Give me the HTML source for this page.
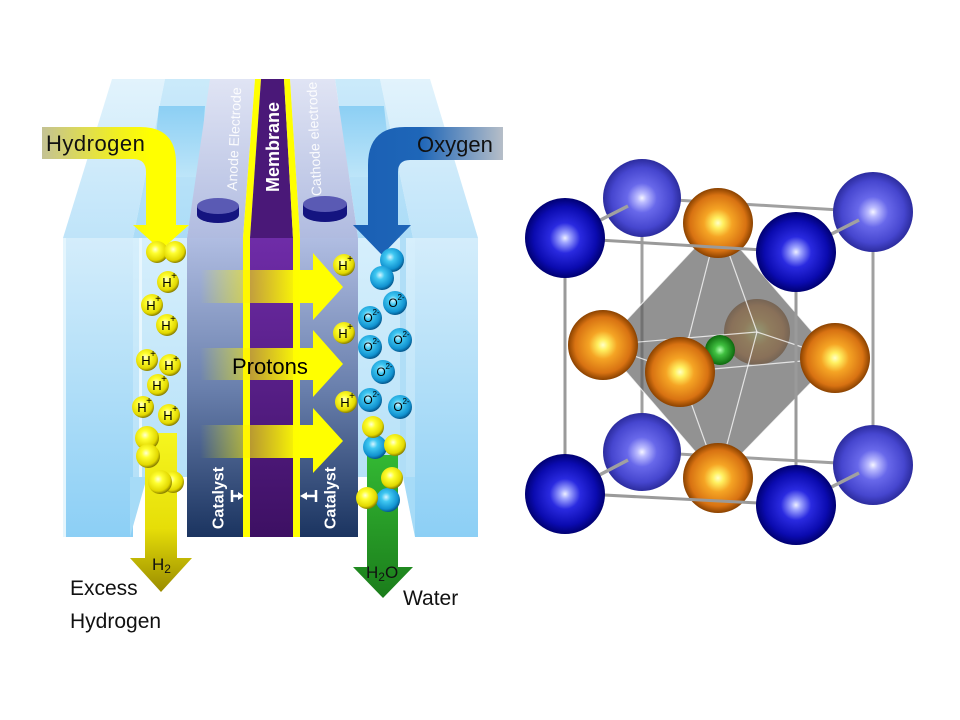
<!DOCTYPE html>
<html><head><meta charset="utf-8"><style>html,body{margin:0;padding:0;background:#fff}svg{display:block}</style></head>
<body>
<svg width="960" height="720" viewBox="0 0 960 720" xmlns="http://www.w3.org/2000/svg" font-family="'Liberation Sans', sans-serif">
<defs>
<linearGradient id="wallF" x1="0" y1="0" x2="0" y2="1"><stop offset="0" stop-color="#d4edfb"/><stop offset="1" stop-color="#8ccff5"/></linearGradient>
<linearGradient id="wallT" x1="0" y1="0" x2="0" y2="1"><stop offset="0" stop-color="#e2f3fc"/><stop offset="1" stop-color="#bfe4f9"/></linearGradient>
<linearGradient id="chanT" x1="0" y1="0" x2="0" y2="1"><stop offset="0" stop-color="#cbeafa"/><stop offset="1" stop-color="#abdcf7"/></linearGradient>
<linearGradient id="backW" x1="0" y1="0" x2="0" y2="1"><stop offset="0" stop-color="#8ccff4"/><stop offset="1" stop-color="#bde5f9"/></linearGradient>
<linearGradient id="chanF" x1="0" y1="0" x2="0" y2="1"><stop offset="0" stop-color="#d6effc"/><stop offset="1" stop-color="#b6e1f8"/></linearGradient>
<linearGradient id="elecT" x1="0" y1="0" x2="0" y2="1"><stop offset="0" stop-color="#e0e4f4"/><stop offset="1" stop-color="#b0bbe0"/></linearGradient>
<linearGradient id="elecF" x1="0" y1="0" x2="0" y2="1"><stop offset="0" stop-color="#b0bde2"/><stop offset="0.5" stop-color="#6a80ad"/><stop offset="1" stop-color="#1b3460"/></linearGradient>
<linearGradient id="memF" x1="0" y1="0" x2="0" y2="1"><stop offset="0" stop-color="#6f2ca8"/><stop offset="1" stop-color="#3d1063"/></linearGradient>
<linearGradient id="proton" gradientUnits="userSpaceOnUse" x1="200" y1="0" x2="343" y2="0"><stop offset="0" stop-color="#ffff00" stop-opacity="0"/><stop offset="0.35" stop-color="#ffee00" stop-opacity="0.6"/><stop offset="0.7" stop-color="#ffff00" stop-opacity="1"/><stop offset="1" stop-color="#ffff00"/></linearGradient>
<linearGradient id="h2in" gradientUnits="userSpaceOnUse" x1="42" y1="0" x2="150" y2="0"><stop offset="0" stop-color="#c4c294"/><stop offset="0.7" stop-color="#f2f020"/><stop offset="1" stop-color="#ffff00"/></linearGradient>
<linearGradient id="o2in" gradientUnits="userSpaceOnUse" x1="353" y1="0" x2="503" y2="0"><stop offset="0" stop-color="#1a5fb4"/><stop offset="0.45" stop-color="#1e66b8"/><stop offset="1" stop-color="#b6bec8"/></linearGradient>
<linearGradient id="h2out" x1="0" y1="0" x2="0" y2="1"><stop offset="0" stop-color="#f6f61e"/><stop offset="0.6" stop-color="#e6de08"/><stop offset="1" stop-color="#9a8c00"/></linearGradient>
<linearGradient id="h2o" x1="0" y1="0" x2="0" y2="1"><stop offset="0" stop-color="#33b833"/><stop offset="1" stop-color="#1b7d1b"/></linearGradient>
<radialGradient id="yb" cx="0.42" cy="0.38" r="0.62"><stop offset="0" stop-color="#ffffd8"/><stop offset="0.3" stop-color="#ffff30"/><stop offset="0.8" stop-color="#e2d800"/><stop offset="1" stop-color="#8a8000"/></radialGradient>
<radialGradient id="cb" cx="0.42" cy="0.38" r="0.62"><stop offset="0" stop-color="#d8f6ff"/><stop offset="0.3" stop-color="#40c8f2"/><stop offset="0.8" stop-color="#1192d0"/><stop offset="1" stop-color="#05598e"/></radialGradient>
<radialGradient id="bF"><stop offset="0" stop-color="#eef0ff"/><stop offset="0.12" stop-color="#a0a6ff"/><stop offset="0.38" stop-color="#2a2ae0"/><stop offset="0.78" stop-color="#0b0bb0"/><stop offset="1" stop-color="#000072"/></radialGradient>
<radialGradient id="bB"><stop offset="0" stop-color="#f6f6ff"/><stop offset="0.12" stop-color="#bcbcff"/><stop offset="0.38" stop-color="#6868ea"/><stop offset="0.78" stop-color="#4646cf"/><stop offset="1" stop-color="#2c2c9e"/></radialGradient>
<radialGradient id="or"><stop offset="0" stop-color="#ffffc8"/><stop offset="0.15" stop-color="#fff060"/><stop offset="0.4" stop-color="#f5a424"/><stop offset="0.8" stop-color="#d87212"/><stop offset="1" stop-color="#8a4200"/></radialGradient>
<radialGradient id="gr"><stop offset="0" stop-color="#b0ffb0"/><stop offset="0.35" stop-color="#40c040"/><stop offset="1" stop-color="#0e6a0e"/></radialGradient>
</defs>
<rect width="960" height="720" fill="#fff"/>

<!-- ===== Fuel cell top faces ===== -->
<polygon points="112,79 165,79 133,238 63,238" fill="url(#wallT)"/>
<polygon points="165,79 212,79 187,238 133,238" fill="url(#chanT)"/>
<polygon points="159,106 205,106 200,177 152,177" fill="url(#backW)"/>
<polygon points="380,79 430,79 478,238 413,238" fill="url(#wallT)"/>
<polygon points="335,79 380,79 413,238 358,238" fill="url(#chanT)"/>
<polygon points="335,106 384,106 392,177 345,177" fill="url(#backW)"/>

<!-- electrode columns (top) -->
<polygon points="210,79 255,79 243,238 187,238" fill="url(#elecT)"/>
<polygon points="290,79 335,79 358,238 300,238" fill="url(#elecT)"/>
<!-- membrane top -->
<polygon points="255,79 261,79 250,238 243,238" fill="#ffff00"/>
<polygon points="261,79 284,79 293,238 250,238" fill="#4a1878"/>
<polygon points="284,79 290,79 300,238 293,238" fill="#ffff00"/>

<!-- ===== Front faces ===== -->
<rect x="63" y="238" width="70" height="299" fill="url(#wallF)"/>
<rect x="63" y="238" width="3" height="299" fill="#e4f5fd"/>
<polygon points="130,477 147,477 130,537" fill="#a6dbf7"/>
<rect x="133" y="238" width="54" height="239" fill="url(#chanF)"/>
<rect x="139" y="238" width="3" height="239" fill="#e8f7fe"/>
<rect x="187" y="238" width="56" height="299" fill="url(#elecF)"/>
<rect x="243" y="238" width="7" height="299" fill="#ffff00"/>
<rect x="250" y="238" width="43" height="299" fill="url(#memF)"/>
<rect x="293" y="238" width="7" height="299" fill="#ffff00"/>
<rect x="300" y="238" width="58" height="299" fill="url(#elecF)"/>
<rect x="358" y="238" width="57" height="239" fill="url(#chanF)"/>
<rect x="400" y="238" width="6" height="239" fill="#b0def7"/>
<polygon points="403,477 415,477 415,537" fill="#a6dbf7"/>
<rect x="415" y="238" width="63" height="299" fill="url(#wallF)"/>

<!-- discs -->
<rect x="197" y="206" width="42" height="9" fill="#141480"/>
<ellipse cx="218" cy="215" rx="21" ry="8" fill="#141480"/>
<ellipse cx="218" cy="206" rx="21" ry="8" fill="#5a5ab4"/>
<rect x="303" y="204" width="44" height="10" fill="#141480"/>
<ellipse cx="325" cy="214" rx="22" ry="8" fill="#141480"/>
<ellipse cx="325" cy="204" rx="22" ry="8" fill="#5a5ab4"/>

<!-- vertical labels -->
<text transform="translate(234,139) rotate(-87.5)" text-anchor="middle" dominant-baseline="central" font-size="14" fill="#fff" fill-opacity="0.9">Anode Electrode</text>
<text transform="translate(273,147) rotate(-90)" text-anchor="middle" dominant-baseline="central" font-size="18" font-weight="bold" fill="#fff">Membrane</text>
<text transform="translate(314,139) rotate(-92.5)" text-anchor="middle" dominant-baseline="central" font-size="14" fill="#fff" fill-opacity="0.9">Cathode electrode</text>

<!-- proton arrows -->
<path d="M200,270 L313,270 L313,253 L343,287 L313,320 L313,303 L200,303 Z" fill="url(#proton)"/>
<path d="M200,348 L313,348 L313,330 L343,364 L313,397 L313,380 L200,380 Z" fill="url(#proton)"/>
<path d="M200,425 L313,425 L313,408 L343,441 L313,473 L313,458 L200,458 Z" fill="url(#proton)"/>
<text x="232" y="374" font-size="22" fill="#000">Protons</text>

<!-- catalyst -->
<text transform="translate(219,498) rotate(-90)" text-anchor="middle" dominant-baseline="central" font-size="16" font-weight="bold" fill="#fff">Catalyst</text>
<text transform="translate(331,498) rotate(-90)" text-anchor="middle" dominant-baseline="central" font-size="16" font-weight="bold" fill="#fff">Catalyst</text>
<path d="M232,490 V502 M232,496 H239" stroke="#fff" stroke-width="2.5"/>
<path d="M238,492 L244,496 L238,500 Z" fill="#fff"/>
<path d="M316,490 V502 M316,496 H306" stroke="#fff" stroke-width="2.5"/>
<path d="M307,492 L300,496 L307,500 Z" fill="#fff"/>

<!-- Hydrogen in arrow -->
<path d="M42,127 L140,127 Q176,127 176,163 L176,225 L189,225 L161,250 L133,225 L146,225 L146,172 Q146,159 133,159 L42,159 Z" fill="url(#h2in)"/>
<text x="46" y="151" font-size="22" letter-spacing="0.5" fill="#111">Hydrogen</text>
<!-- Oxygen in arrow -->
<path d="M503,127 L405,127 Q368,127 368,165 L368,225 L353,225 L382,255 L411,225 L398,225 L398,172 Q398,160 410,160 L503,160 Z" fill="url(#o2in)"/>
<text x="417" y="152" font-size="22" fill="#111">Oxygen</text>

<!-- outlet arrows -->
<path d="M145,433 L177,433 L177,558 L192,558 L161,592 L130,558 L145,558 Z" fill="url(#h2out)"/>
<text x="152" y="570" font-size="17" fill="#111">H<tspan font-size="12" dy="3">2</tspan></text>
<path d="M367,455 L398,455 L398,567 L413,567 L383,598 L353,567 L367,567 Z" fill="url(#h2o)"/>
<text x="366" y="578" font-size="17" fill="#111">H<tspan font-size="12" dy="3">2</tspan><tspan dy="-3">O</tspan></text>

<text x="70" y="595" font-size="21" fill="#111">Excess</text>
<text x="70" y="628" font-size="21" fill="#111">Hydrogen</text>
<text x="403" y="605" font-size="21" fill="#111">Water</text>

<!-- H2 molecules -->
<circle cx="157" cy="252" r="11" fill="url(#yb)"/>
<circle cx="175" cy="252" r="11" fill="url(#yb)"/>
<circle cx="147" cy="438" r="12" fill="url(#yb)"/>
<circle cx="148" cy="456" r="12" fill="url(#yb)"/>
<circle cx="173" cy="482" r="11" fill="url(#yb)"/>
<circle cx="160" cy="482" r="12" fill="url(#yb)"/>

<!-- H+ ions -->
<g font-size="13" text-anchor="middle" fill="#000">
<circle cx="168" cy="282" r="11" fill="url(#yb)"/><text x="167" y="287">H</text><text x="174" y="279" font-size="10">+</text>
<circle cx="152" cy="305" r="11" fill="url(#yb)"/><text x="151" y="310">H</text><text x="158" y="302" font-size="10">+</text>
<circle cx="167" cy="325" r="11" fill="url(#yb)"/><text x="166" y="330">H</text><text x="173" y="322" font-size="10">+</text>
<circle cx="147" cy="360" r="11" fill="url(#yb)"/><text x="146" y="365">H</text><text x="153" y="357" font-size="10">+</text>
<circle cx="170" cy="365" r="11" fill="url(#yb)"/><text x="169" y="370">H</text><text x="176" y="362" font-size="10">+</text>
<circle cx="158" cy="385" r="11" fill="url(#yb)"/><text x="157" y="390">H</text><text x="164" y="382" font-size="10">+</text>
<circle cx="143" cy="407" r="11" fill="url(#yb)"/><text x="142" y="412">H</text><text x="149" y="404" font-size="10">+</text>
<circle cx="169" cy="415" r="11" fill="url(#yb)"/><text x="168" y="420">H</text><text x="175" y="412" font-size="10">+</text>
<circle cx="344" cy="265" r="11" fill="url(#yb)"/><text x="343" y="270">H</text><text x="350" y="262" font-size="10">+</text>
<circle cx="344" cy="333" r="11" fill="url(#yb)"/><text x="343" y="338">H</text><text x="350" y="330" font-size="10">+</text>
<circle cx="346" cy="402" r="11" fill="url(#yb)"/><text x="345" y="407">H</text><text x="352" y="399" font-size="10">+</text>
</g>

<!-- O2 molecule -->
<circle cx="392" cy="260" r="12" fill="url(#cb)"/>
<circle cx="382" cy="278" r="12" fill="url(#cb)"/>
<!-- O2- ions -->
<g font-size="12" text-anchor="middle" fill="#000">
<circle cx="395" cy="303" r="12" fill="url(#cb)"/><text x="393" y="307">O</text><text x="401" y="300" font-size="8">2-</text>
<circle cx="370" cy="318" r="12" fill="url(#cb)"/><text x="368" y="322">O</text><text x="376" y="315" font-size="8">2-</text>
<circle cx="400" cy="340" r="12" fill="url(#cb)"/><text x="398" y="344">O</text><text x="406" y="337" font-size="8">2-</text>
<circle cx="370" cy="347" r="12" fill="url(#cb)"/><text x="368" y="351">O</text><text x="376" y="344" font-size="8">2-</text>
<circle cx="383" cy="372" r="12" fill="url(#cb)"/><text x="381" y="376">O</text><text x="389" y="369" font-size="8">2-</text>
<circle cx="370" cy="400" r="12" fill="url(#cb)"/><text x="368" y="404">O</text><text x="376" y="397" font-size="8">2-</text>
<circle cx="400" cy="407" r="12" fill="url(#cb)"/><text x="398" y="411">O</text><text x="406" y="404" font-size="8">2-</text>
</g>
<!-- water molecules -->
<circle cx="375" cy="447" r="12" fill="url(#cb)"/>
<circle cx="373" cy="427" r="11" fill="url(#yb)"/>
<circle cx="395" cy="445" r="11" fill="url(#yb)"/>
<circle cx="388" cy="500" r="12" fill="url(#cb)"/>
<circle cx="392" cy="478" r="11" fill="url(#yb)"/>
<circle cx="367" cy="498" r="11" fill="url(#yb)"/>

<!-- ===== Perovskite crystal ===== -->
<g stroke="#a0a0a0" stroke-width="3" fill="none">
<polygon points="642,198 873,212 873,465 642,452"/>
</g>
<circle cx="642" cy="198" r="39" fill="url(#bB)"/>
<circle cx="873" cy="212" r="40" fill="url(#bB)"/>
<circle cx="642" cy="452" r="39" fill="url(#bB)"/>
<circle cx="873" cy="465" r="40" fill="url(#bB)"/>
<g stroke="#a0a0a0" stroke-width="3.5">
<line x1="565" y1="238" x2="628" y2="206"/>
<line x1="796" y1="252" x2="859" y2="220"/>
<line x1="565" y1="493" x2="628" y2="460"/>
<line x1="796" y1="505" x2="859" y2="473"/>
</g>
<circle cx="757" cy="332" r="33" fill="url(#or)" opacity="0.7"/>
<polygon points="718,223 835,358 718,478 603,345" fill="#5a5a5a" fill-opacity="0.66"/>
<g stroke="#ffffff" stroke-opacity="0.75" stroke-width="1.2">
<line x1="718" y1="223" x2="603" y2="345"/>
<line x1="718" y1="223" x2="680" y2="372"/>
<line x1="718" y1="223" x2="835" y2="358"/>
<line x1="718" y1="223" x2="757" y2="332"/>
<line x1="718" y1="478" x2="603" y2="345"/>
<line x1="718" y1="478" x2="680" y2="372"/>
<line x1="718" y1="478" x2="835" y2="358"/>
<line x1="718" y1="478" x2="757" y2="332"/>
<line x1="603" y1="345" x2="680" y2="372"/>
<line x1="680" y1="372" x2="835" y2="358"/>
<line x1="835" y1="358" x2="757" y2="332"/>
<line x1="757" y1="332" x2="603" y2="345"/>
</g>
<circle cx="720" cy="350" r="15" fill="url(#gr)"/>
<circle cx="603" cy="345" r="35" fill="url(#or)"/>
<circle cx="835" cy="358" r="35" fill="url(#or)"/>
<circle cx="718" cy="223" r="35" fill="url(#or)"/>
<circle cx="718" cy="478" r="35" fill="url(#or)"/>
<circle cx="680" cy="372" r="35" fill="url(#or)"/>
<g stroke="#9a9a9a" stroke-width="3" fill="none">
<polygon points="565,238 796,252 796,505 565,493"/>
</g>
<circle cx="565" cy="238" r="40" fill="url(#bF)"/>
<circle cx="796" cy="252" r="40" fill="url(#bF)"/>
<circle cx="565" cy="494" r="40" fill="url(#bF)"/>
<circle cx="796" cy="505" r="40" fill="url(#bF)"/>
</svg>
</body></html>
